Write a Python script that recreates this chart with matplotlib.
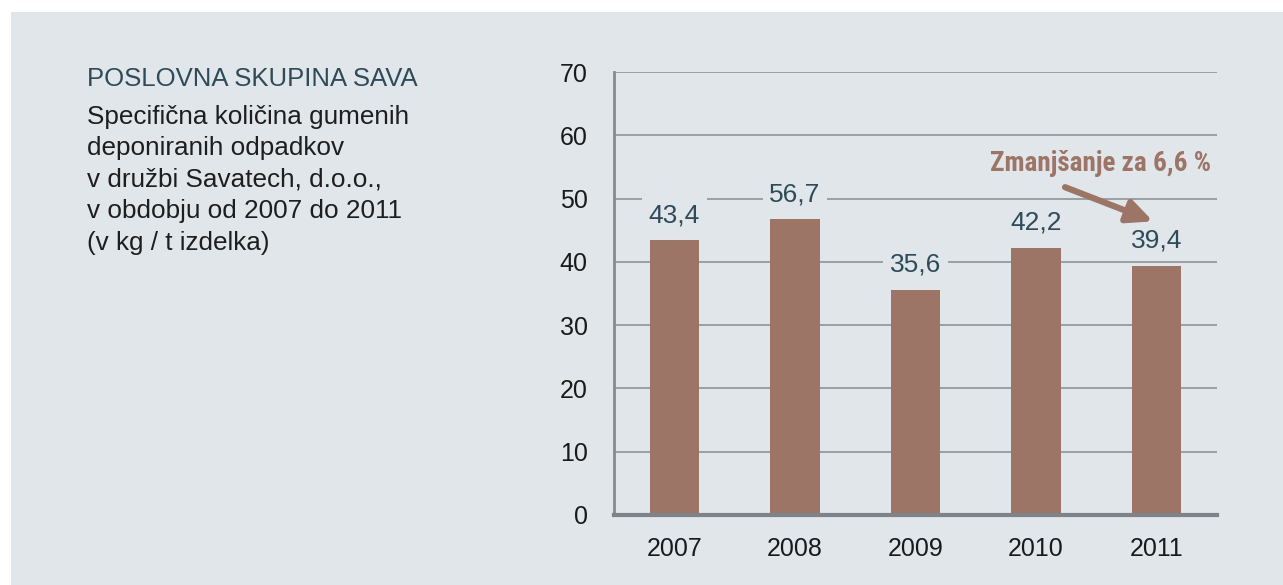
import matplotlib.pyplot as plt
from matplotlib import font_manager
from matplotlib.patches import Rectangle

years = ["2007", "2008", "2009", "2010", "2011"]
# bar heights as drawn in the original
heights = [43.4, 46.7, 35.6, 42.2, 39.4]
# value labels as printed in the original
labels = ["43,4", "56,7", "35,6", "42,2", "39,4"]
yticks = [0, 10, 20, 30, 40, 50, 60, 70]

title = "POSLOVNA SKUPINA SAVA"
subtitle = ("Specifična količina gumenih\n"
            "deponiranih odpadkov\n"
            "v družbi Savatech, d.o.o.,\n"
            "v obdobju od 2007 do 2011\n"
            "(v kg / t izdelka)")
note = "Zmanjšanje za 6,6 %"

bg = "#e1e6ea"
bar_col = "#9c7566"
dark = "#2f4b5a"

plt.rcParams['font.family'] = ['Liberation Sans', 'DejaVu Sans']

# pick a condensed face for the note if one is installed
fonts = font_manager.fontManager.ttflist
names = {f.name for f in fonts}
cond_family = "DejaVu Sans"
cond_stretch = "normal"
for n in ["Roboto Condensed", "Liberation Sans Narrow", "DejaVu Sans Condensed",
          "Open Sans Condensed"]:
    if n in names:
        cond_family = n
        break
else:
    for f in fonts:
        if f.stretch in ("condensed", 75, "semi-condensed") and f.weight in ("bold", 700):
            cond_family = f.name
            cond_stretch = f.stretch
            break

fig = plt.figure(figsize=(12.83, 5.85), dpi=100)
fig.patch.set_facecolor("white")
fig.patches.append(Rectangle((11 / 1283, 0), 1 - 11 / 1283, 1 - 12 / 585,
                             transform=fig.transFigure, facecolor=bg,
                             edgecolor="none", zorder=-10))

ax = fig.add_axes([614 / 1283, 70 / 585, 603 / 1283, 443 / 585])
ax.set_facecolor("none")
x = range(len(years))
ax.bar(x, heights, width=0.41, color=bar_col, zorder=3)
ax.set_xlim(-0.5, 4.5)
ax.set_ylim(0, 70)
ax.set_yticks(yticks)
ax.set_xticks(list(x))
ax.set_xticklabels(years)
ax.tick_params(axis="both", length=0, labelsize=18, colors="#1a1a1a")
ax.tick_params(axis="y", pad=19)
ax.tick_params(axis="x", pad=16)
ax.grid(axis="y", color="#9aa0a4", linewidth=1.4, zorder=1)
for s in ["top", "right"]:
    ax.spines[s].set_visible(False)
ax.spines["left"].set_color("#858b90")
ax.spines["left"].set_linewidth(2)
ax.spines["bottom"].set_color("#7d8388")
ax.spines["bottom"].set_linewidth(3)
ax.spines["bottom"].set_zorder(4)

for xi, h, lab in zip(x, heights, labels):
    ax.annotate(lab, (xi, h), xytext=(0, 18), textcoords="offset points",
                ha="center", va="center", fontsize=19, color=dark, zorder=5,
                bbox=dict(boxstyle="square,pad=0.25", facecolor=bg, edgecolor="none"))

ax.annotate("", xy=(3.97, 46.4), xytext=(3.24, 51.8),
            arrowprops=dict(arrowstyle="-|>,head_length=1.5,head_width=0.7",
                            color=bar_col, lw=4.5, shrinkA=0, shrinkB=0), zorder=6)
ax.text(4.45, 55.6, note, ha="right", va="center", fontsize=19.5, color=bar_col,
        fontweight="bold", family=[cond_family, "DejaVu Sans"],
        fontstretch=cond_stretch)

fig.text(87 / 1283, 1 - 79 / 585, title, ha="left", va="center",
         fontsize=18.5, color=dark)
fig.text(87 / 1283, 1 - 105 / 585, subtitle, ha="left", va="top",
         fontsize=18.8, color="#1e1e1e", linespacing=1.39)

fig.savefig("out.png", dpi=100, facecolor=fig.get_facecolor())
